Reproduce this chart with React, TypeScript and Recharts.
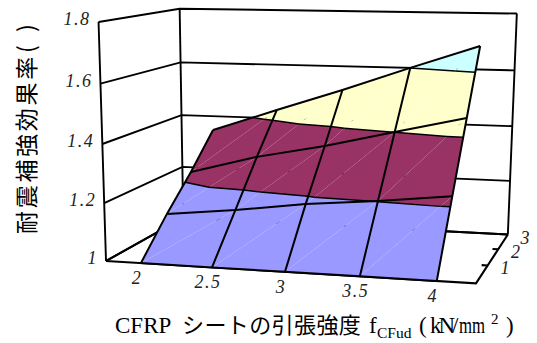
import { ScatterChart, Scatter, XAxis, YAxis } from 'recharts';

const WIDTH = 537;
const HEIGHT = 343;

// tensile strength (columns) and number of sheet layers (rows)
const STRENGTHS = [2, 2.5, 3, 3.5, 4];
const LAYERS = [0, 1, 2, 3];
const EFFECT_LAYER_0 = [1, 1, 1, 1, 1];
const EFFECT_LAYER_1 = [1.12, 1.146, 1.179, 1.202, 1.23];
const EFFECT_LAYER_2 = [1.227, 1.293, 1.342, 1.401, 1.458];
const EFFECT_LAYER_3 = [1.347, 1.431, 1.513, 1.6, 1.684];
const EFFECTS = [EFFECT_LAYER_0, EFFECT_LAYER_1, EFFECT_LAYER_2, EFFECT_LAYER_3];

const EFFECT_TICKS = [1, 1.2, 1.4, 1.6, 1.8];
const LAYER_TICKS = [1, 2, 3];
const BAND_COLORS = ['#9999FF', '#993366', '#FFFFCC', '#CCFFFF'];

const STRENGTH_MIN = 1.75;
const STRENGTH_MAX = 4.25;
const LAYER_MAX = 3;
const EFFECT_MIN = 1;
const EFFECT_MAX = 1.8;

type Vec3 = { s: number; l: number; e: number };
type Pt = { x: number; y: number };

// 3x4 camera for the box, with all three axes normalised to 0..1
function project(s: number, l: number, e: number): Pt {
  const a = (s - STRENGTH_MIN) / (STRENGTH_MAX - STRENGTH_MIN);
  const b = l / LAYER_MAX;
  const c = (e - EFFECT_MIN) / (EFFECT_MAX - EFFECT_MIN);
  const w = 1 - 0.063 * a + 0.146 * b - 0.0411 * c;
  return {
    x: (106 + 340 * a + 104 * b - 11.5 * c) / w,
    y: (261 + 4.5 * a - 11.5 * b - 239.9 * c) / w,
  };
}

const toPt = (v: Vec3) => project(v.s, v.l, v.e);

function lerp(p: Vec3, q: Vec3, level: number): Vec3 {
  const t = (level - p.e) / (q.e - p.e);
  return { s: p.s + (q.s - p.s) * t, l: p.l + (q.l - p.l) * t, e: level };
}

// keep the part of a polygon on one side of an effect level
function clip(poly: Vec3[], level: number, keepAbove: boolean): Vec3[] {
  const out: Vec3[] = [];
  poly.forEach((p, i) => {
    const q = poly[(i + 1) % poly.length];
    const pIn = keepAbove ? p.e >= level : p.e <= level;
    const qIn = keepAbove ? q.e >= level : q.e <= level;
    if (pIn) out.push(p);
    if (pIn !== qIn) out.push(lerp(p, q, level));
  });
  return out;
}

function buildTriangles(): Vec3[][] {
  const tris: Vec3[][] = [];
  const at = (i: number, j: number): Vec3 => ({ s: STRENGTHS[i], l: LAYERS[j], e: EFFECTS[j][i] });
  for (let j = 0; j < LAYERS.length - 1; j++) {
    for (let i = 0; i < STRENGTHS.length - 1; i++) {
      tris.push([at(i, j), at(i + 1, j), at(i + 1, j + 1)]);
      tris.push([at(i, j), at(i + 1, j + 1), at(i, j + 1)]);
    }
  }
  return tris;
}

const triangles = buildTriangles();

const facets: { color: string; points: Pt[] }[] = [];
BAND_COLORS.forEach((color, b) => {
  triangles.forEach((tri) => {
    const part = clip(clip(tri, EFFECT_TICKS[b], true), EFFECT_TICKS[b + 1], false);
    if (part.length >= 3) facets.push({ color, points: part.map(toPt) });
  });
});

// contour segments where the colour bands meet
const contours: Pt[][] = [];
EFFECT_TICKS.slice(1, -1).forEach((level) => {
  triangles.forEach((tri) => {
    const cut: Vec3[] = [];
    tri.forEach((p, i) => {
      const q = tri[(i + 1) % 3];
      if (p.e < level !== q.e < level) cut.push(lerp(p, q, level));
    });
    if (cut.length === 2) contours.push(cut.map(toPt));
  });
});

const gridLines: Pt[][] = [
  ...LAYERS.map((l, j) => STRENGTHS.map((s, i) => project(s, l, EFFECTS[j][i]))),
  ...STRENGTHS.map((s, i) => LAYERS.map((l, j) => project(s, l, EFFECTS[j][i]))),
];

const BACK = LAYER_MAX;
const wallLines: Pt[][] = [
  ...EFFECT_TICKS.map((e) => [
    project(STRENGTH_MIN, 0, e),
    project(STRENGTH_MIN, BACK, e),
    project(STRENGTH_MAX, BACK, e),
  ]),
  [project(STRENGTH_MIN, 0, 1), project(STRENGTH_MIN, 0, 1.8)],
  [project(STRENGTH_MIN, BACK, 1), project(STRENGTH_MIN, BACK, 1.8)],
  [project(STRENGTH_MAX, BACK, 1), project(STRENGTH_MAX, BACK, 1.8)],
];

const floorLines: Pt[][] = [
  [project(STRENGTH_MIN, 0, 1), project(STRENGTH_MAX, 0, 1), project(STRENGTH_MAX, BACK, 1)],
  [project(STRENGTH_MIN, 0, 1), project(STRENGTH_MIN, BACK, 1), project(STRENGTH_MAX, BACK, 1)],
  ...LAYER_TICKS.slice(0, 2).map((l) => [project(STRENGTH_MAX, l, 1), project(STRENGTH_MAX - 0.04, l, 1)]),
  ...STRENGTHS.map((s) => [project(s, 0, 1), project(s, 0.04, 1)]),
];

const effectLabels = EFFECT_TICKS.map((e) => ({ ...project(STRENGTH_MIN, 0, e), text: String(e) }));
const strengthLabels = STRENGTHS.map((s) => ({ ...project(s, 0, 1), text: String(s) }));
const layerLabels = LAYER_TICKS.map((l) => ({ ...project(STRENGTH_MAX, l, 1), text: String(l) }));

const NoDot = () => null;

const facetLine = (color: string) => (props: { points: Pt[] }) => (
  <polygon points={props.points.map((p) => `${p.x},${p.y}`).join(' ')} fill={color} stroke="none" />
);

const tickText = (dx: number, dy: number, anchor: string) => (props: any) => (
  <text
    x={props.cx + dx}
    y={props.cy + dy}
    textAnchor={anchor}
    fontFamily="Liberation Serif"
    fontStyle="italic"
    fontSize={18}
    letterSpacing={1.5}
    fill="#222"
  >
    {props.payload.text}
  </text>
);

const SERIF = 'Liberation Serif';
const GOTHIC = 'Noto Sans CJK JP';

export default function App() {
  return (
    <div style={{ position: 'absolute', left: 0, top: 0 }}>
      <ScatterChart width={WIDTH} height={HEIGHT} margin={{ top: 0, right: 0, bottom: 0, left: 0 }}>
        <XAxis type="number" dataKey="x" domain={[0, WIDTH]} hide />
        <YAxis type="number" dataKey="y" domain={[0, HEIGHT]} reversed hide />

        {wallLines.map((pts, i) => (
          <Scatter key={`wall${i}`} data={pts} shape={NoDot} line={{ stroke: '#000', strokeWidth: 1.9 }} isAnimationActive={false} />
        ))}
        {floorLines.map((pts, i) => (
          <Scatter key={`floor${i}`} data={pts} shape={NoDot} line={{ stroke: '#000', strokeWidth: 2.1 }} isAnimationActive={false} />
        ))}

        {facets.map((f, i) => (
          <Scatter key={`facet${i}`} data={f.points} shape={NoDot} line={facetLine(f.color)} isAnimationActive={false} />
        ))}
        {contours.map((pts, i) => (
          <Scatter key={`contour${i}`} data={pts} shape={NoDot} line={{ stroke: '#000', strokeWidth: 1.5 }} isAnimationActive={false} />
        ))}
        {gridLines.map((pts, i) => (
          <Scatter key={`grid${i}`} data={pts} shape={NoDot} line={{ stroke: '#000', strokeWidth: 2 }} isAnimationActive={false} />
        ))}

        <Scatter data={effectLabels} shape={tickText(-8, 3, 'end')} isAnimationActive={false} />
        <Scatter data={strengthLabels} shape={tickText(-4, 21, 'middle')} isAnimationActive={false} />
        <Scatter data={layerLabels} shape={tickText(18, 9, 'middle')} isAnimationActive={false} />

        <text x={115} y={333} fontFamily={SERIF} fontSize={23} fill="#000">CFRP</text>
        <text x={182} y={333} fontFamily={GOTHIC} fontSize={22} letterSpacing={0.4} fill="#000">シートの引張強度</text>
        <text x={369} y={333} fontFamily={SERIF} fontSize={23} fill="#000">f</text>
        <text x={377} y={338} fontFamily={SERIF} fontSize={15.5} fill="#000">CFud</text>
        <text x={419} y={333} fontFamily={SERIF} fontSize={23} fill="#000">(</text>
        <text x={430} y={333} fontFamily={SERIF} fontSize={23} letterSpacing={-3} fill="#000">kN</text>
        <text x={452} y={333} fontFamily={SERIF} fontSize={23} fill="#000">/</text>
        <text transform="translate(459 333) scale(0.73 1)" fontFamily={SERIF} fontSize={23} fill="#000">mm</text>
        <text x={491} y={324} fontFamily={SERIF} fontSize={15} fill="#000">2</text>
        <text x={506} y={333} fontFamily={SERIF} fontSize={23} fill="#000">)</text>

        <text transform="translate(35 234) rotate(-90)" fontFamily={GOTHIC} fontSize={23} letterSpacing={2.7} fill="#000">
          耐震補強効果率
        </text>
        <text transform="translate(35 53) rotate(-90)" fontFamily={GOTHIC} fontSize={23} fill="#000">(</text>
        <text transform="translate(35 32) rotate(-90)" fontFamily={GOTHIC} fontSize={23} fill="#000">)</text>
      </ScatterChart>
    </div>
  );
}
